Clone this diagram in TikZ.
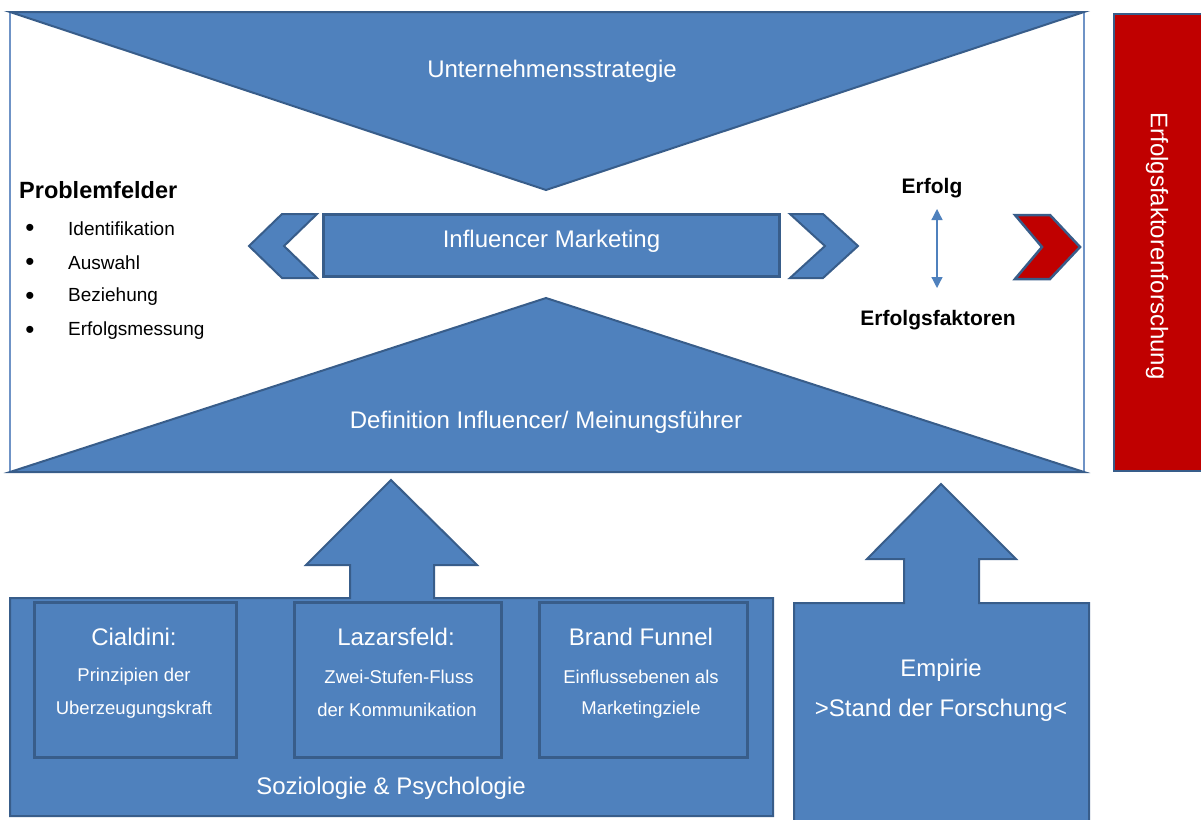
\documentclass[tikz,border=0pt]{standalone}
\usepackage{fontspec}
\setmainfont{Liberation Sans}
\usetikzlibrary{arrows.meta}
\definecolor{bfill}{HTML}{4F81BD}
\definecolor{bline}{HTML}{385D8A}
\definecolor{rfill}{HTML}{C00000}
\definecolor{frameline}{HTML}{6F93C6}
\begin{document}
\begin{tikzpicture}[x=1pt,y=-1pt,
  bshape/.style={fill=bfill,draw=bline,line width=2pt,line join=miter},
  inbox/.style={fill=bfill,draw=bline,line width=3pt},
  wbig/.style={text=white,font=\fontsize{24}{28}\selectfont,inner sep=0pt},
  wsmall/.style={text=white,font=\fontsize{18.5}{22}\selectfont,inner sep=0pt},
  btext/.style={text=black,font=\fontsize{19}{23}\selectfont,inner sep=0pt,anchor=west},
  bdot/.style={text=black,font=\fontsize{26}{28}\selectfont,inner sep=0pt},
  bbold/.style={text=black,font=\bfseries\fontsize{21}{25}\selectfont,inner sep=0pt}]
\useasboundingbox (0,0) rectangle (1201,819);
\fill[white] (0,0) rectangle (1201,819);
% frame
\draw[frameline,line width=1.5pt] (10,12) rectangle (1084,472);
% triangles
\filldraw[bshape] (10,12) -- (1084,12) -- (546,190) -- cycle;
\filldraw[bshape] (10,472) -- (1084,472) -- (546,298) -- cycle;
\node[wbig] (us) at (552,71) {Unternehmensstrategie};
\node[wbig] (def) at (546,422) {Definition Influencer/ Meinungsführer};
% centre bar and chevrons
\filldraw[bshape] (249,246) -- (282,214) -- (317,214) -- (284,246) -- (317,278) -- (282,278) -- cycle;
\filldraw[bshape] (790,214) -- (823,214) -- (858,246) -- (823,278) -- (790,278) -- (825,246) -- cycle;
\node[bshape,line width=3pt,minimum width=456pt,minimum height=62pt,inner sep=0pt] (im) at (551.5,245.5) {};
\node[wbig] (imt) at (551.5,241) {Influencer Marketing};
% red chevron
\filldraw[fill=rfill,draw=bline,line width=2.5pt,line join=miter] (1015,215) -- (1050,215) -- (1080,247) -- (1050,279) -- (1015,279) -- (1042,247) -- cycle;
% Erfolg
\node[bbold] (erf) at (932,188) {Erfolg};
\node[bbold] (erff) at (938,320) {Erfolgsfaktoren};
\coordinate (a1) at (937,209);
\coordinate (a2) at (937,288);
\draw[bfill,line width=1.3pt,{Triangle[length=11pt,width=11pt]}-{Triangle[length=11pt,width=11pt]}] (a1) -- (a2);
% Problemfelder
\node[text=black,font=\bfseries\fontsize{23.5}{28}\selectfont,inner sep=0pt,anchor=west] (pf) at (19,190) {Problemfelder};
\node[bdot] (d1) at (30,230) {\textbullet};
\node[bdot] (d2) at (30,264) {\textbullet};
\node[bdot] (d3) at (30,298) {\textbullet};
\node[bdot] (d4) at (30,332) {\textbullet};
\node[btext] (p1) at (68,229) {Identifikation};
\node[btext] (p2) at (68,263) {Auswahl};
\node[btext] (p3) at (68,297) {Beziehung};
\node[btext] (p4) at (68,331) {Erfolgsmessung};
% red box
\filldraw[fill=rfill,draw=bline,line width=2.5pt] (1114,14) rectangle (1205,471);
\node[text=white,font=\fontsize{24}{27}\selectfont,inner sep=0pt,rotate=-90] (efs) at (1157,246) {Erfolgsfaktorenforschung};
% bottom left big box with arrow
\filldraw[bshape] (10,598) -- (350,598) -- (350,565) -- (306,565) -- (391,480) -- (477,565) -- (434,565) -- (434,598) -- (773,598) -- (773,816) -- (10,816) -- cycle;
\node[inbox,minimum width=202pt,minimum height=155pt,inner sep=0pt,anchor=north west] (c) at (33,601) {};
\node[inbox,minimum width=207pt,minimum height=155pt,inner sep=0pt,anchor=north west] (l) at (293,601) {};
\node[inbox,minimum width=208pt,minimum height=155pt,inner sep=0pt,anchor=north west] (b) at (538,601) {};
\node[wbig] (ct) at (134,637) {Cialdini:};
\node[wsmall] (c1) at (134,677) {Prinzipien der};
\node[wsmall] (c2) at (134,710) {Uberzeugungskraft};
\node[wbig] (lt) at (396,637) {Lazarsfeld:};
\node[wsmall] (l1) at (399,677) {Zwei-Stufen-Fluss};
\node[wsmall] (l2) at (397,710) {der Kommunikation};
\node[wbig] (bt) at (641,637) {Brand Funnel};
\node[wsmall] (b1) at (641,677) {Einflussebenen als};
\node[wsmall] (b2) at (641,710) {Marketingziele};
\node[wbig] (sp) at (391,788) {Soziologie \& Psychologie};
% Empirie
\filldraw[bshape] (794,603) -- (904,603) -- (904,559) -- (867,559) -- (941,484) -- (1016,559) -- (979,559) -- (979,603) -- (1089,603) -- (1089,822) -- (794,822) -- cycle;
\node[wbig] (em) at (941,670) {Empirie};
\node[wbig] (em2) at (941,710) {>Stand der Forschung<};
\end{tikzpicture}
\end{document}
